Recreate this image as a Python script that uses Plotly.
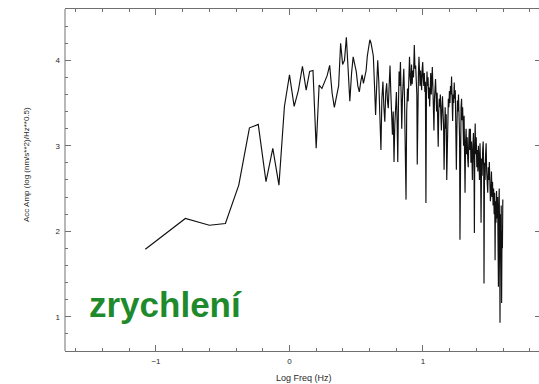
import plotly.graph_objects as go

# Log frequency (Hz) and acceleration amplitude
log_freq = [
    -1.08, -0.78, -0.60, -0.48, -0.38, -0.30, -0.234, -0.176, -0.125, -0.079,
    -0.038, 0.0, 0.035, 0.067, 0.097, 0.125, 0.151, 0.176, 0.200, 0.222,
    0.243, 0.263, 0.282, 0.301, 0.319, 0.336, 0.352, 0.368, 0.383, 0.398,
    0.412, 0.426, 0.439, 0.452, 0.465, 0.477, 0.489, 0.500, 0.512, 0.523,
    0.534, 0.544, 0.554, 0.564, 0.574, 0.583, 0.593, 0.602, 0.611, 0.620,
    0.628, 0.637,
    0.645, 0.653, 0.661, 0.669, 0.677, 0.685, 0.692, 0.700, 0.707, 0.714,
    0.721, 0.728, 0.734, 0.740, 0.747, 0.753, 0.759, 0.765, 0.771, 0.777,
    0.783, 0.789, 0.795, 0.801, 0.806, 0.811, 0.816, 0.821, 0.826, 0.831,
    0.836, 0.841, 0.846, 0.851, 0.856, 0.861, 0.866, 0.873, 0.878, 0.884,
    0.889, 0.894, 0.899, 0.904, 0.909, 0.914, 0.919, 0.924, 0.929, 0.935,
    0.940, 0.945, 0.950, 0.954, 0.957, 0.961, 0.966, 0.970, 0.974, 0.978,
    0.982, 0.986, 0.990, 0.994, 0.998, 1.002, 1.006, 1.010, 1.014, 1.018,
    1.022, 1.026, 1.030, 1.034, 1.038, 1.042, 1.046, 1.050, 1.054, 1.058,
    1.062, 1.066, 1.070, 1.074, 1.078, 1.082, 1.086, 1.090, 1.094, 1.098,
    1.102, 1.106, 1.110, 1.114, 1.118, 1.122, 1.126, 1.130, 1.134, 1.138,
    1.142, 1.146, 1.150, 1.154, 1.158, 1.162, 1.166, 1.170, 1.174, 1.178,
    1.182, 1.186, 1.190, 1.194, 1.198, 1.202, 1.206, 1.210, 1.214, 1.218,
    1.222, 1.226, 1.230, 1.234, 1.238, 1.242, 1.246, 1.250, 1.254, 1.258,
    1.262, 1.266, 1.270, 1.274, 1.277, 1.281, 1.285, 1.289, 1.293, 1.297,
    1.300, 1.304, 1.308, 1.312, 1.315, 1.319, 1.323, 1.327, 1.331, 1.335,
    1.339, 1.343, 1.347, 1.351, 1.355, 1.359, 1.363, 1.367, 1.370, 1.374,
    1.378, 1.382, 1.385, 1.388, 1.391, 1.395, 1.399, 1.403, 1.407, 1.411,
    1.415, 1.419, 1.423, 1.427, 1.431, 1.435, 1.439, 1.443, 1.447, 1.451,
    1.455, 1.457, 1.461, 1.465, 1.469, 1.473, 1.477, 1.481, 1.485, 1.489,
    1.493, 1.497, 1.501, 1.505, 1.509, 1.513, 1.517, 1.521, 1.525, 1.529,
    1.533, 1.537, 1.540, 1.543, 1.547, 1.551, 1.555, 1.559, 1.562, 1.565,
    1.568, 1.571, 1.574, 1.577, 1.580, 1.583, 1.586, 1.589, 1.592, 1.595,
    1.598,
]

acc_amp = [
    1.79, 2.15, 2.07, 2.09, 2.54, 3.21, 3.25, 2.58, 2.97, 2.54,
    3.46, 3.83, 3.46, 3.65, 3.93, 3.65, 3.87, 3.88, 2.97, 3.71,
    3.67, 3.75, 3.82, 3.94, 3.62, 3.45, 3.60, 3.70, 4.20, 3.95,
    4.00, 4.27, 3.90, 3.52, 3.85, 4.04, 3.95, 3.87, 3.70, 3.63,
    3.75, 3.83, 3.73, 3.80, 3.88, 4.05, 4.15, 4.24, 4.20, 4.10,
    4.05, 3.70,
    3.36, 3.70, 4.00, 3.75, 3.40, 2.95, 3.55, 3.75, 3.45, 3.28,
    3.62, 3.73, 3.52, 3.44, 3.72, 3.94, 3.62, 3.35, 3.13, 3.40,
    2.81, 3.25, 3.50, 3.63, 3.30, 2.81, 3.45, 3.87, 3.70, 3.98,
    3.62, 3.20, 3.55, 3.80, 3.90, 3.60, 3.25, 2.37, 3.40, 3.67,
    3.52, 3.85, 4.04, 3.80, 3.70, 3.95, 3.72, 3.88, 3.80, 4.18,
    3.90, 3.94, 3.70, 3.60, 2.78, 3.55, 3.85, 4.04, 3.82, 3.70,
    3.88, 3.75, 3.65, 3.90, 3.98, 3.80, 3.70, 3.85, 3.63, 3.75,
    2.33, 3.60, 3.87, 3.70, 3.80, 3.55, 3.68, 3.46, 3.72, 3.85,
    3.60, 3.80, 3.92, 3.70, 3.45, 3.18, 3.55, 3.70, 3.78, 3.60,
    3.40, 3.62, 3.35, 2.99, 3.40, 3.55, 3.45, 3.60, 3.35, 3.18,
    3.45, 3.58, 3.40, 3.25, 2.72, 3.30, 3.45, 3.20, 3.37, 2.60,
    3.10, 3.40, 3.55, 3.45, 3.64, 3.50, 3.70, 3.60, 3.81, 3.55,
    3.29, 3.60, 3.50, 3.74, 3.55, 3.65, 3.30, 2.72, 3.20, 3.53,
    3.40, 3.60, 3.35, 3.10, 1.90, 3.20, 3.45, 3.55, 3.30, 3.45,
    3.25, 3.00, 3.35, 2.80, 2.45, 3.05, 3.20, 2.90, 3.10, 2.85,
    2.75, 3.05, 3.20, 2.95, 3.20, 2.80, 3.05, 2.85, 2.60, 3.00,
    3.15, 2.80, 1.98, 3.00, 3.26, 2.90, 3.10, 2.75, 2.95, 2.70,
    3.00, 2.85, 2.60, 3.03, 2.80, 2.10, 2.85, 2.65, 2.95, 3.05,
    2.70, 1.39, 2.80, 2.60, 2.90, 3.03, 2.70, 2.50, 2.45, 2.75,
    2.60, 2.81, 2.55, 2.35, 2.45, 2.70, 2.40, 2.58, 2.30, 2.50,
    2.20, 2.45, 1.66, 2.35, 2.10, 2.47, 2.15, 2.40, 1.90, 1.35,
    2.30, 2.50, 1.85, 0.93, 2.20, 1.75, 2.30, 1.16, 2.00, 1.80,
    2.37,
]

assert len(log_freq) == len(acc_amp)

x_ticks = [-1, 0, 1]
y_ticks = [1, 2, 3, 4]
x_title = "Log Freq (Hz)"
y_title = "Acc Amp (log (nm/s**2)/Hz**0.5)"
label_text = "zrychlení"

AX = "#707070"
TXT = "#2a2a2a"
X_RANGE = [-1.6816, 1.869]
Y_RANGE = [0.599, 4.6]

fig = go.Figure()
fig.add_trace(go.Scatter(x=log_freq, y=acc_amp, mode="lines",
                         line=dict(color="#111111", width=1.15), hoverinfo="skip"))
# invisible trace to carry the right-hand mirror axis
fig.add_trace(go.Scatter(x=[log_freq[0]], y=[acc_amp[0]], yaxis="y2", mode="lines",
                         line=dict(width=0), hoverinfo="skip", showlegend=False))

minor_cfg = dict(dtick=0.2, tick0=0, ticks="inside", ticklen=3, tickcolor=AX, showgrid=False)

fig.update_layout(
    width=539, height=384,
    margin=dict(l=65, r=0, t=9, b=33),
    paper_bgcolor="white", plot_bgcolor="white",
    showlegend=False,
    font=dict(family="Liberation Sans, Arial, sans-serif", size=8, color=TXT),
    xaxis=dict(range=X_RANGE, tickvals=x_ticks, ticks="inside", ticklen=6,
               tickcolor=AX, showline=True, linecolor=AX, linewidth=1, mirror="ticks",
               showgrid=False, zeroline=False, ticklabelstandoff=2,
               tickfont=dict(size=8, color=TXT),
               minor=minor_cfg),
    yaxis=dict(range=Y_RANGE, tickvals=y_ticks, ticks="inside", ticklen=6,
               tickcolor=AX, showline=False,
               showgrid=False, zeroline=False, ticklabelstandoff=4,
               tickfont=dict(size=8, color=TXT),
               minor=minor_cfg),
    yaxis2=dict(range=Y_RANGE, overlaying="y", side="right", tickvals=y_ticks,
                ticks="inside", ticklen=4, tickcolor=AX, showticklabels=False,
                showline=False, showgrid=False, zeroline=False),
    shapes=[dict(type="line", xref="paper", yref="paper", x0=0, x1=0, y0=0, y1=1,
                 line=dict(color=AX, width=1))],
    annotations=[
        dict(text=x_title, xref="paper", yref="paper", x=0.504, y=-0.079,
             xanchor="center", yanchor="middle", showarrow=False,
             font=dict(size=9, color=TXT)),
        dict(text=y_title, xref="paper", yref="paper", x=-0.080, y=0.544,
             xanchor="center", yanchor="middle", showarrow=False, textangle=-90,
             font=dict(size=8, color=TXT)),
        dict(text="<b>" + label_text + "</b>", xref="paper", yref="paper", x=0.046, y=0.135,
             xanchor="left", yanchor="middle", showarrow=False,
             font=dict(size=35, color="#1f8a2b", family="Liberation Sans, Arial, sans-serif")),
    ],
)

fig.write_html("out.html")
